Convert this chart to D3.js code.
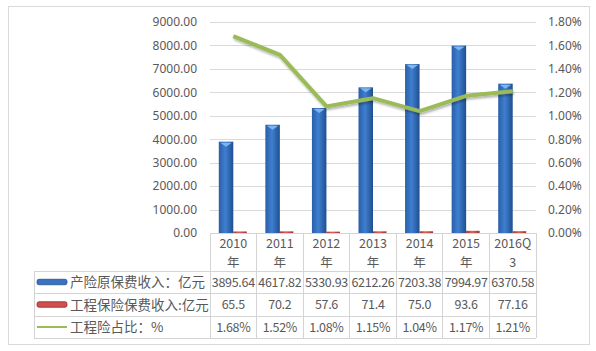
<!DOCTYPE html>
<html>
<head>
<meta charset="utf-8">
<script src="https://cdn.jsdelivr.net/npm/d3@7"></script>
<style>
  body { margin: 0; background: #fff; }
  text { font-family: "Noto Sans CJK SC", "Noto Sans", sans-serif; fill: #595959; }
</style>
</head>
<body>
<div id="chart"></div>
<script>
// data
var years = ["2010", "2011", "2012", "2013", "2014", "2015", "2016Q3"];
var yearLines = [["2010", "年"], ["2011", "年"], ["2012", "年"], ["2013", "年"], ["2014", "年"], ["2015", "年"], ["2016Q", "3"]];
var premium = [3895.64, 4617.82, 5330.93, 6212.26, 7203.38, 7994.97, 6370.58];
var engPremium = [65.5, 70.2, 57.6, 71.4, 75.0, 93.6, 77.16];
var engLabels = ["65.5", "70.2", "57.6", "71.4", "75.0", "93.6", "77.16"];
var ratio = [0.0168, 0.0152, 0.0108, 0.0115, 0.0104, 0.0117, 0.0121];
var leftTicks = [0, 1000, 2000, 3000, 4000, 5000, 6000, 7000, 8000, 9000];
var rightTicks = [0, 0.002, 0.004, 0.006, 0.008, 0.010, 0.012, 0.014, 0.016, 0.018];
var seriesNames = ["产险原保费收入：亿元", "工程保险保费收入:亿元", "工程险占比：%"];

var W = 596, H = 351;
var plotL = 210, plotR = 536, plotT = 22, plotB = 233;
var legL = 34;
var rowY = [233, 271, 293.5, 316, 338];

var svg = d3.select("#chart").append("svg")
  .attr("width", W).attr("height", H);

var defs = svg.append("defs");
function barGrad(id, c1, c2, c3) {
  var g = defs.append("linearGradient").attr("id", id)
    .attr("x1", "0%").attr("x2", "100%").attr("y1", "0%").attr("y2", "0%");
  g.append("stop").attr("offset", "0%").attr("stop-color", c1);
  g.append("stop").attr("offset", "45%").attr("stop-color", c2);
  g.append("stop").attr("offset", "100%").attr("stop-color", c3);
}
barGrad("gBlue", "#2a5ea8", "#3f7fd0", "#1f4f8f");
barGrad("gRed", "#a33a37", "#e0605c", "#9c3633");
var sh = defs.append("filter").attr("id", "shadow")
  .attr("x", "-10%").attr("y", "-20%").attr("width", "130%").attr("height", "160%");
sh.append("feDropShadow").attr("dx", 1).attr("dy", 2).attr("stdDeviation", 1.2)
  .attr("flood-color", "#000").attr("flood-opacity", 0.3);

// outer frame
svg.append("rect").attr("x", 8.5).attr("y", 6.5).attr("width", 581).attr("height", 338)
  .attr("fill", "none").attr("stroke", "#d9d9d9");

var x = d3.scaleBand().domain(years).range([plotL, plotR]);
var y0 = d3.scaleLinear().domain([0, 9000]).range([plotB, plotT]);
var y1 = d3.scaleLinear().domain([0, 0.018]).range([plotB, plotT]);

// gridlines
svg.append("g").selectAll("line").data(leftTicks.slice(1)).enter().append("line")
  .attr("x1", plotL).attr("x2", plotR)
  .attr("y1", function(d) { return Math.round(y0(d)) + 0.5; })
  .attr("y2", function(d) { return Math.round(y0(d)) + 0.5; })
  .attr("stroke", "#d9d9d9");

// left axis
var yAxisL = d3.axisLeft(y0).tickValues(leftTicks).tickSize(0).tickPadding(0)
  .tickFormat(function(d) { return d3.format(".2f")(d); });
var gl = svg.append("g").attr("transform", "translate(197,0)").call(yAxisL);
gl.select(".domain").remove();
gl.selectAll("text").attr("font-size", 12).style("font-family", "Noto Sans, sans-serif").attr("fill", "#595959");

// right axis
var yAxisR = d3.axisRight(y1).tickValues(rightTicks).tickSize(0).tickPadding(0)
  .tickFormat(d3.format(".2%"));
var gr = svg.append("g").attr("transform", "translate(548,0)").call(yAxisR);
gr.select(".domain").remove();
gr.selectAll("text").attr("font-size", 12).style("font-family", "Noto Sans, sans-serif").attr("fill", "#595959");

var bw = 14.5;
// blue bars
var blue = svg.append("g").selectAll("g").data(premium).enter().append("g");
blue.append("rect")
  .attr("x", function(d, i) { return x(years[i]) + x.bandwidth() / 2 - bw; })
  .attr("y", function(d) { return y0(d); })
  .attr("width", bw)
  .attr("height", function(d) { return plotB - y0(d); })
  .attr("fill", "url(#gBlue)");
blue.append("path")
  .attr("d", function(d, i) {
    var l = x(years[i]) + x.bandwidth() / 2 - bw, t = y0(d);
    return "M" + (l + 1.5) + "," + (t + 1) + "L" + (l + bw - 1.5) + "," + (t + 1) +
      "L" + (l + bw / 2) + "," + (t + 5) + "Z";
  })
  .attr("fill", "#7fb4ee");

// red bars
svg.append("g").selectAll("rect").data(engPremium).enter().append("rect")
  .attr("x", function(d, i) { return x(years[i]) + x.bandwidth() / 2; })
  .attr("y", function(d) { return y0(d); })
  .attr("width", bw - 1)
  .attr("height", function(d) { return plotB - y0(d); })
  .attr("fill", "url(#gRed)");

// ratio line
var line = d3.line()
  .x(function(d, i) { return x(years[i]) + x.bandwidth() / 2; })
  .y(function(d) { return y1(d); });
svg.append("path").datum(ratio)
  .attr("d", line)
  .attr("fill", "none")
  .attr("stroke", "#9bbb59")
  .attr("stroke-width", 4)
  .attr("stroke-linejoin", "round")
  .attr("filter", "url(#shadow)");

// data table
var tg = svg.append("g").attr("stroke", "#d4d4d4").attr("shape-rendering", "crispEdges");
tg.append("line").attr("x1", plotL).attr("x2", plotR).attr("y1", rowY[0]).attr("y2", rowY[0]);
rowY.slice(1).forEach(function(yy) {
  tg.append("line").attr("x1", legL).attr("x2", plotR).attr("y1", yy).attr("y2", yy);
});
tg.append("line").attr("x1", legL).attr("x2", legL).attr("y1", rowY[1]).attr("y2", rowY[4]);
years.forEach(function(yr) {
  tg.append("line").attr("x1", x(yr)).attr("x2", x(yr)).attr("y1", rowY[0]).attr("y2", rowY[4]);
});
tg.append("line").attr("x1", plotR).attr("x2", plotR).attr("y1", rowY[0]).attr("y2", rowY[4]);

// header years
yearLines.forEach(function(ls, i) {
  var cx = x(years[i]) + x.bandwidth() / 2;
  ls.forEach(function(s, j) {
    svg.append("text").attr("x", cx).attr("y", 248 + j * 18.5)
      .attr("text-anchor", "middle").attr("font-size", 12.5).text(s);
  });
});

// value rows
var rows = [premium.map(function(d) { return d3.format(".2f")(d); }), engLabels,
  ratio.map(function(d) { return d3.format(".2%")(d); })];
rows.forEach(function(r, k) {
  var cy = (rowY[k + 1] + rowY[k + 2]) / 2 + 4.5;
  r.forEach(function(s, i) {
    svg.append("text").attr("x", x(years[i]) + x.bandwidth() / 2).attr("y", cy)
      .attr("text-anchor", "middle").attr("font-size", 12.5).attr("letter-spacing", -0.3)
      .text(s);
  });
});

// legend column
seriesNames.forEach(function(n, k) {
  var cy = (rowY[k + 1] + rowY[k + 2]) / 2;
  if (k === 0) {
    svg.append("rect").attr("x", 37).attr("y", cy - 3).attr("width", 30).attr("height", 5.5)
      .attr("rx", 2).attr("fill", "#3a72bf").attr("stroke", "#24508f").attr("stroke-width", 0.8);
  } else if (k === 1) {
    svg.append("rect").attr("x", 37).attr("y", cy - 3).attr("width", 30).attr("height", 5.5)
      .attr("rx", 2).attr("fill", "#d0504d").attr("stroke", "#8f2e2c").attr("stroke-width", 0.8);
  } else {
    svg.append("line").attr("x1", 37).attr("x2", 67).attr("y1", cy).attr("y2", cy)
      .attr("stroke", "#9bbb59").attr("stroke-width", 2);
  }
  svg.append("text").attr("x", 70).attr("y", cy + 5)
    .attr("font-size", 13.5).attr("fill", "#404040").text(n);
});
</script>
</body>
</html>
